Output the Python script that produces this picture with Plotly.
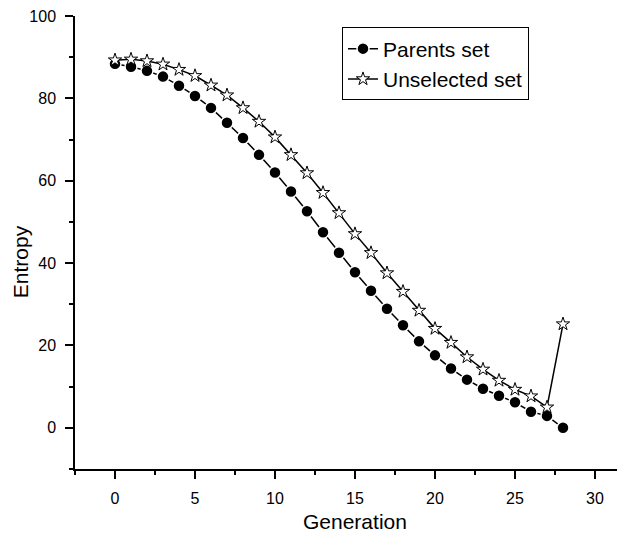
import plotly.graph_objects as go

generation = list(range(29))
parents_set = [88.4, 87.7, 86.7, 85.3, 83.1, 80.6, 77.7, 74.1, 70.4, 66.3,
               62.0, 57.4, 52.6, 47.5, 42.5, 37.8, 33.3, 28.9, 24.9, 21.0,
               17.6, 14.4, 11.7, 9.5, 7.8, 6.2, 3.9, 2.9, 0.0]
unselected_set = [89.3, 89.5, 89.1, 88.3, 87.0, 85.5, 83.2, 80.8, 77.7, 74.4,
                  70.6, 66.3, 61.9, 57.1, 52.2, 47.1, 42.5, 37.6, 33.1, 28.5,
                  24.1, 20.7, 17.2, 14.2, 11.5, 9.3, 7.7, 5.0, 25.2]

x_ticks = [0, 5, 10, 15, 20, 25, 30]
y_ticks = [0, 20, 40, 60, 80, 100]
x_title = "Generation"
y_title = "Entropy"

FONT = "Liberation Sans, Arial, sans-serif"

# page has an 8px body margin; figure coordinates = page coordinates - 8
OFF = 8
W, H = 625 - OFF, 536 - OFF
ML, MR, MT, MB = 75 - OFF, 0, 15.5 - OFF, 536 - 469

fig = go.Figure()
fig.add_trace(go.Scatter(
    x=generation, y=parents_set, mode="lines+markers", name="Parents set",
    line=dict(color="black", width=1.5),
    marker=dict(symbol="circle", size=12, color="black",
                line=dict(color="white", width=1.5)),
))
fig.add_trace(go.Scatter(
    x=generation, y=unselected_set, mode="lines+markers", name="Unselected set",
    line=dict(color="black", width=1.5),
    marker=dict(symbol="star", size=10, color="white",
                line=dict(color="black", width=1)),
))

plot_h = H - MT - MB
plot_w = W - ML - MR


def px_x(page_x):
    return (page_x - OFF - ML) / plot_w


def px_y(page_y):
    return (H - MB - (page_y - OFF)) / plot_h


fig.update_layout(
    width=W, height=H,
    margin=dict(l=ML, r=MR, t=MT, b=MB, autoexpand=False),
    paper_bgcolor="white", plot_bgcolor="white",
    font=dict(family=FONT, color="black", size=16),
    showlegend=True,
    legend=dict(
        x=px_x(342), y=px_y(27), xanchor="left", yanchor="top",
        bordercolor="black", borderwidth=1, bgcolor="white",
        font=dict(family=FONT, size=21, color="black"),
        tracegroupgap=0,
    ),
    xaxis=dict(
        range=[-2.5, 31.875], showgrid=False, zeroline=False, automargin=False,
        showline=True, linecolor="black", linewidth=1.5,
        tickmode="array", tickvals=x_ticks, ticktext=[str(v) for v in x_ticks],
        ticks="outside", ticklen=8, tickwidth=1.5, tickcolor="black",
        ticklabelstandoff=6, ticklabeloverflow="allow",
        minor=dict(ticks="outside", ticklen=4, tickwidth=1.5, tickcolor="black",
                   tick0=-2.5, dtick=5),
        tickfont=dict(size=16),
    ),
    yaxis=dict(
        range=[-10, 100.02], showgrid=False, zeroline=False, automargin=False,
        showline=True, linecolor="black", linewidth=1.5,
        tickmode="array", tickvals=y_ticks, ticktext=[str(v) for v in y_ticks],
        ticks="outside", ticklen=8, tickwidth=1.5, tickcolor="black",
        ticklabelstandoff=6, ticklabeloverflow="allow",
        minor=dict(ticks="outside", ticklen=4, tickwidth=1.5, tickcolor="black",
                   tick0=10, dtick=20),
        tickfont=dict(size=16),
    ),
    annotations=[
        dict(text=x_title, xref="paper", yref="paper",
             x=px_x(355), y=px_y(522),
             xanchor="center", yanchor="middle", showarrow=False,
             font=dict(size=21, family=FONT, color="black")),
        dict(text=y_title, xref="paper", yref="paper",
             x=px_x(20), y=px_y(262),
             xanchor="center", yanchor="middle", showarrow=False, textangle=-90,
             font=dict(size=21, family=FONT, color="black")),
    ],
)

fig.write_html("out.html")
